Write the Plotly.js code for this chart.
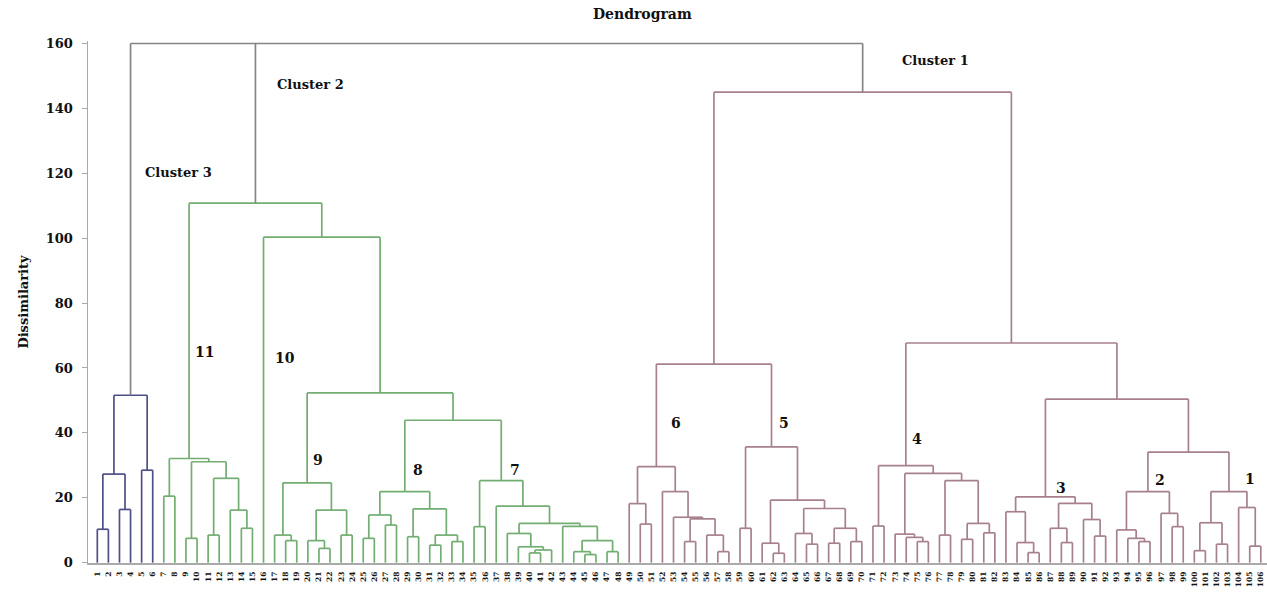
<!DOCTYPE html>
<html>
<head>
<meta charset="utf-8">
<script src="https://cdn.plot.ly/plotly-3.0.1.min.js"></script>
<style>html,body{margin:0;padding:0;background:#fff}#chart{width:1267px;height:593px}</style>
</head>
<body>
<div id="chart"></div>
<script>
// ---- data: merge heights (dissimilarity); L = a leaf, leaves listed left to right ----
const L = 'leaf';
const group3  = [51.6, [27.3, [10.3, L, L], [16.4, L, L]], [28.5, L, L]];
const group11 = [32.1, [20.5, L, L], [31.1, [7.5, L, L], [26.0, [8.5, L, L], [16.2, L, [10.6, L, L]]]]];
const group9  = [24.6, [8.5, L, [6.8, L, L]], [16.2, [6.8, L, [4.4, L, L]], [8.5, L, L]]];
const group8  = [21.9, [14.7, [7.5, L, L], [11.6, L, L]], [16.6, [8.0, L, L], [8.5, [5.4, L, L], [6.5, L, L]]]];
const group7  = [25.3, [11.1, L, L], [17.4, L, [12.1, [9.0, L, [4.9, L, [3.9, [3.0, L, L], L]]], [11.2, L, [6.8, [3.4, L, [2.5, L, L]], [3.4, L, L]]]]]];
const group6  = [29.6, [18.2, L, [11.9, L, L]], [21.9, L, [14.0, L, [13.5, [6.5, L, L], [8.5, L, [3.4, L, L]]]]]];
const group5  = [35.7, [10.6, L, L], [19.3, [6.0, L, [2.9, L, L]], [16.7, [9.0, L, [5.7, L, L]], [10.6, [6.0, L, L], [6.5, L, L]]]]];
const group4  = [29.9, [11.3, L, L], [27.5, [8.8, L, [7.8, L, [6.5, L, L]]], [25.3, [8.5, L, L], [12.1, [7.2, L, L], [9.2, L, L]]]]];
const groupC3 = [20.3, [15.7, L, [6.2, L, [3.1, L, L]]], [18.3, [10.6, L, [6.2, L, L]], [13.3, L, [8.2, L, L]]]];
const groupC2 = [21.9, [10.1, L, [7.5, L, [6.5, L, L]]], [15.2, L, [11.1, L, L]]];
const groupC1 = [21.9, [12.3, [3.7, L, L], [5.7, L, L]], [17.0, L, [5.1, L, L]]];

const cluster3 = group3;
const cluster2 = [110.8, group11, [100.3, L, [52.3, group9, [43.9, group8, group7]]]];
const cluster1 = [145.0, [61.2, group6, group5], [67.7, group4, [50.4, groupC3, [34.1, groupC2, groupC1]]]];
const rootHeight = 160;

const leafLabels = ["1","2","3","4","5","6","7","8","9","10","11","12","13","14","15","16","17","18","19","20",
"21","22","23","24","25","26","27","28","29","30","31","32","33","34","35","36","37","38","39","40",
"41","42","43","44","45","46","47","48","49","50","51","52","53","54","55","56","57","58","59","60",
"61","62","63","64","65","66","67","68","69","70","71","72","73","74","75","76","77","78","79","80",
"81","82","83","84","85","86","87","88","89","90","91","92","93","94","95","96","97","98","99","100",
"101","102","103","104","105","106"];

const clusterNames = ["Cluster 3", "Cluster 2", "Cluster 1"];
const subLabels = ["11","10","9","8","7","6","5","4","3","2","1"];

// ---- styles ----
const colRoot = '#858585', colC3 = '#4f4f88', colC2 = '#72ad72', colC1 = '#a7808f';

const segs = {};
function add(color, x0, y0, x1, y1) {
  if (!segs[color]) segs[color] = {x: [], y: []};
  segs[color].x.push(x0, x1, null);
  segs[color].y.push(y0, y1, null);
}
let leafIdx = 0;
function walk(node, color) {
  if (node === L) return {x: leafIdx++, h: 0};
  const h = node[0];
  const kids = node.slice(1).map(k => walk(k, color));
  kids.forEach(k => add(color, k.x, k.h, k.x, h));
  add(color, kids[0].x, h, kids[kids.length - 1].x, h);
  return {x: kids.reduce((s, k) => s + k.x, 0) / kids.length, h: h};
}
const tops = [walk(cluster3, colC3), walk(cluster2, colC2), walk(cluster1, colC1)];
tops.forEach(k => add(colRoot, k.x, k.h, k.x, rootHeight));
add(colRoot, tops[0].x, rootHeight, tops[2].x, rootHeight);

const traces = Object.keys(segs).map(c => ({
  type: 'scatter', mode: 'lines', x: segs[c].x, y: segs[c].y,
  line: {color: c, width: 1.7}, hoverinfo: 'skip', showlegend: false, connectgaps: false
}));

const serif = 'DejaVu Serif, Liberation Serif, serif';
function ann(text, x, y, size) {
  return {text: '<b>' + text + '</b>', x: x, y: y, xref: 'x', yref: 'y', showarrow: false,
          font: {family: serif, size: size, color: '#111'}};
}
const annotations = [
  ann(clusterNames[0], 7.3, 120.1, 13), ann(clusterNames[1], 19.2, 147.5, 13), ann(clusterNames[2], 75.6, 154.9, 13),
  ann(subLabels[0], 9.7, 64.8, 14), ann(subLabels[1], 16.9, 63.1, 14), ann(subLabels[2], 19.9, 31.7, 14),
  ann(subLabels[3], 28.9, 28.6, 14), ann(subLabels[4], 37.7, 28.6, 14), ann(subLabels[5], 52.2, 43.1, 14),
  ann(subLabels[6], 62.0, 43.1, 14), ann(subLabels[7], 74.0, 38.1, 14), ann(subLabels[8], 87.0, 23.0, 14),
  ann(subLabels[9], 95.9, 25.5, 14), ann(subLabels[10], 104.0, 25.8, 14)
];

const layout = {
  width: 1267, height: 593,
  margin: {l: 88, r: 0, t: 41, b: 30, pad: 0},
  paper_bgcolor: '#fff', plot_bgcolor: '#fff',
  title: {text: '<b>Dendrogram</b>', font: {family: serif, size: 14, color: '#111'},
          x: 0.507, xref: 'container', xanchor: 'center', y: 0.976, yref: 'container', yanchor: 'middle'},
  xaxis: {range: [-0.84, 105.56], showgrid: false, zeroline: false, showline: true, linecolor: '#aaa', linewidth: 1.5,
          tickmode: 'array', tickvals: leafLabels.map((_, i) => i), ticktext: leafLabels, ticks: '',
          ticklabelstandoff: 4, tickangle: -90, tickfont: {family: serif, size: 7.5, color: '#111', weight: 'bold'},
          fixedrange: true},
  yaxis: {range: [-0.1, 160.77], showgrid: false, zeroline: false, showline: true, linecolor: '#aaa', linewidth: 1.5,
          tickmode: 'array', tickvals: [0, 20, 40, 60, 80, 100, 120, 140, 160],
          ticks: 'outside', ticklen: 5, tickcolor: '#aaa', ticklabelstandoff: 6,
          tickfont: {family: serif, size: 13, color: '#111', weight: 'bold'},
          title: {text: '<b>Dissimilarity</b>', font: {family: serif, size: 13, color: '#111'}, standoff: 14},
          fixedrange: true},
  annotations: annotations
};
Plotly.newPlot('chart', traces, layout, {displayModeBar: false, staticPlot: true});
</script>
</body>
</html>
